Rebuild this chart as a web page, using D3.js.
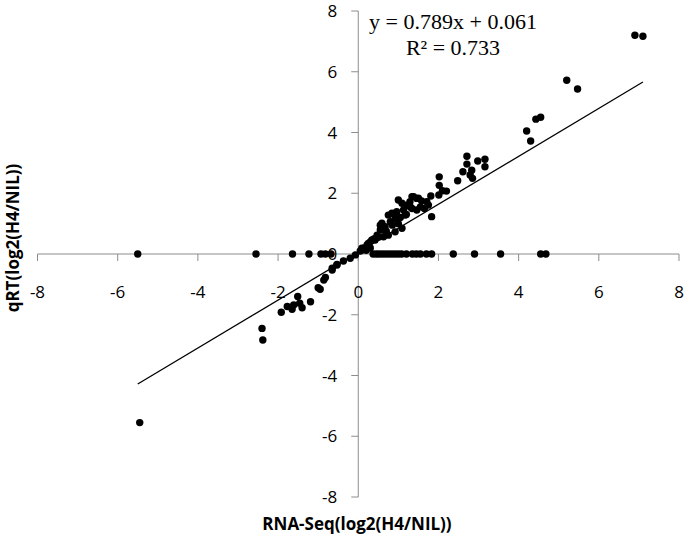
<!DOCTYPE html>
<html>
<head>
<meta charset="utf-8">
<script src="https://cdn.jsdelivr.net/npm/d3@7"></script>
<style>
  body { margin: 0; background: #fff; }
  svg { display: block; }
  .tick-label { font-family: "Open Sans", sans-serif; font-size: 17px; fill: #000; }
  .title { font-family: "Open Sans", sans-serif; font-weight: bold; font-size: 17px; fill: #000; }
  .eq { font-family: "Liberation Serif", "Times New Roman", serif; font-size: 22px; fill: #000; }
</style>
</head>
<body>
<svg></svg>
<script>
"use strict";

// RNA-Seq log2 ratios (x) and matching qRT log2 ratios (y)
var rnaSeq = [
  6.9, 7.1, 5.2, 5.47, 4.43, 4.55, 4.2, 4.3,
  2.71, 2.71, 2.98, 3.16, 3.16, 2.61, 2.83, 2.79, 2.85, 2.48, 2.02, 2.02, 2.01, 2.2, 2.1,
  1.83, 1.81, 1.34, 1.5, 1.58, 1.71, 1.75, 1.46, 1.38, 1.29, 1.34, 1.46, 1.21, 1.09, 1.0,
  1.13, 1.17, 0.96, 0.84, 0.75, 0.92, 0.8, 0.59, 0.67, 0.55, 0.55, 0.47, 0.42, 0.3, 0.22,
  0.09, 0.92, 0.75, 0.63, 1.09, 0.34, 0.09, -0.07, -0.2, -0.37, -0.53, -0.65,
  1.2, 1.05, 1.3, 1.55, 1.65, 0.7, 0.85, 1.0, 0.4, 0.5, 0.25, 0.15, 0.05, 0.3, 0.2,
  -2.4, -2.38, -1.92, -1.77, -1.65, -1.61, -1.51, -1.46, -1.4, -1.19, -1.0, -0.95, -0.86,
  -0.82, -0.65, -0.53, -5.45,
  -5.5, -2.55, -1.64, -1.23, -0.93, -0.82, -0.68, 0.37, 0.45, 0.52, 0.6, 0.68, 0.76, 0.84,
  0.92, 1.0, 1.08, 1.2, 1.35, 1.45, 1.55, 1.7, 1.83, 2.37, 2.9, 3.55, 4.55, 4.68
];
var qRT = [
  7.2, 7.17, 5.72, 5.43, 4.44, 4.5, 4.05, 3.72,
  3.22, 2.96, 3.06, 3.12, 2.87, 2.71, 2.76, 2.6, 2.49, 2.41, 2.54, 2.26, 1.94, 2.07, 2.08,
  1.23, 1.91, 1.89, 1.84, 1.75, 1.72, 1.61, 1.83, 1.89, 1.72, 1.5, 1.45, 1.61, 1.67, 1.78,
  1.45, 1.28, 1.39, 1.34, 1.28, 1.17, 1.06, 1.01, 0.9, 0.79, 0.95, 0.62, 0.46, 0.4, 0.3,
  0.19, 0.73, 0.62, 0.57, 0.85, 0.46, 0.13, -0.03, -0.14, -0.23, -0.34, -0.47,
  1.3, 1.2, 1.55, 1.55, 1.5, 0.75, 0.95, 1.0, 0.5, 0.55, 0.35, 0.2, 0.1, 0.2, 0.12,
  -2.45, -2.83, -1.92, -1.73, -1.82, -1.68, -1.4, -1.62, -1.77, -1.57, -1.11, -1.16, -0.86,
  -0.77, -0.53, -0.36, -5.55,
  0, 0, 0, 0, 0, 0, 0, 0, 0, 0, 0, 0, 0, 0,
  0, 0, 0, 0, 0, 0, 0, 0, 0, 0, 0, 0, 0, 0
];

var xTicks = [-8, -6, -4, -2, 0, 2, 4, 6, 8];
var yTicks = [-8, -6, -4, -2, 0, 2, 4, 6, 8];
var slope = 0.789, intercept = 0.061, r2 = 0.733;
var fitRange = [-5.5, 7.1];

var width = 685, height = 538;
var svg = d3.select("svg").attr("width", width).attr("height", height);

var x = d3.scaleLinear().domain([-8, 8]).range([37.5, 679]);
var y = d3.scaleLinear().domain([-8, 8]).range([497, 11]);

var axisColor = "#8c8c8c";

// x axis through y = 0, ticks pointing down
var gx = svg.append("g").attr("transform", "translate(0," + y(0) + ")");
gx.append("line").attr("x1", x(-8)).attr("x2", x(8)).attr("stroke", axisColor);
gx.selectAll(".xt").data(xTicks).enter().append("line")
  .attr("x1", function (d) { return x(d); })
  .attr("x2", function (d) { return x(d); })
  .attr("y1", 0).attr("y2", 7)
  .attr("stroke", axisColor);

// y axis through x = 0, ticks pointing left
var gy = svg.append("g").attr("transform", "translate(" + x(0) + ",0)");
gy.append("line").attr("y1", y(-8)).attr("y2", y(8)).attr("stroke", axisColor);
gy.selectAll(".yt").data(yTicks).enter().append("line")
  .attr("y1", function (d) { return y(d); })
  .attr("y2", function (d) { return y(d); })
  .attr("x1", 0).attr("x2", -7)
  .attr("stroke", axisColor);

// trendline
svg.append("line")
  .attr("x1", x(fitRange[0])).attr("y1", y(slope * fitRange[0] + intercept))
  .attr("x2", x(fitRange[1])).attr("y2", y(slope * fitRange[1] + intercept))
  .attr("stroke", "#000").attr("stroke-width", 1.3);

// points
svg.append("g").selectAll("circle").data(rnaSeq).enter().append("circle")
  .attr("cx", function (d) { return x(d); })
  .attr("cy", function (d, i) { return y(qRT[i]); })
  .attr("r", 3.7)
  .attr("fill", "#000");

// tick labels
svg.append("g").selectAll("text").data(xTicks).enter().append("text")
  .attr("class", "tick-label")
  .attr("x", function (d) { return x(d); })
  .attr("y", y(0) + 44)
  .attr("text-anchor", "middle")
  .text(function (d) { return d; });

svg.append("g").selectAll("text").data(yTicks).enter().append("text")
  .attr("class", "tick-label")
  .attr("x", x(0) - 21)
  .attr("y", function (d) { return y(d) + 6; })
  .attr("text-anchor", "end")
  .text(function (d) { return d; });

// axis titles
svg.append("text").attr("class", "title")
  .attr("x", 357).attr("y", 530)
  .attr("text-anchor", "middle")
  .text("RNA-Seq(log2(H4/NIL))");

svg.append("text").attr("class", "title")
  .attr("transform", "translate(19,238) rotate(-90)")
  .attr("text-anchor", "middle")
  .text("qRT(log2(H4/NIL))");

// equation
svg.append("text").attr("class", "eq")
  .attr("x", 453).attr("y", 29)
  .attr("text-anchor", "middle")
  .text("y = " + slope + "x + " + intercept);

svg.append("text").attr("class", "eq")
  .attr("x", 453).attr("y", 55)
  .attr("text-anchor", "middle")
  .text("R² = " + r2);
</script>
</body>
</html>
